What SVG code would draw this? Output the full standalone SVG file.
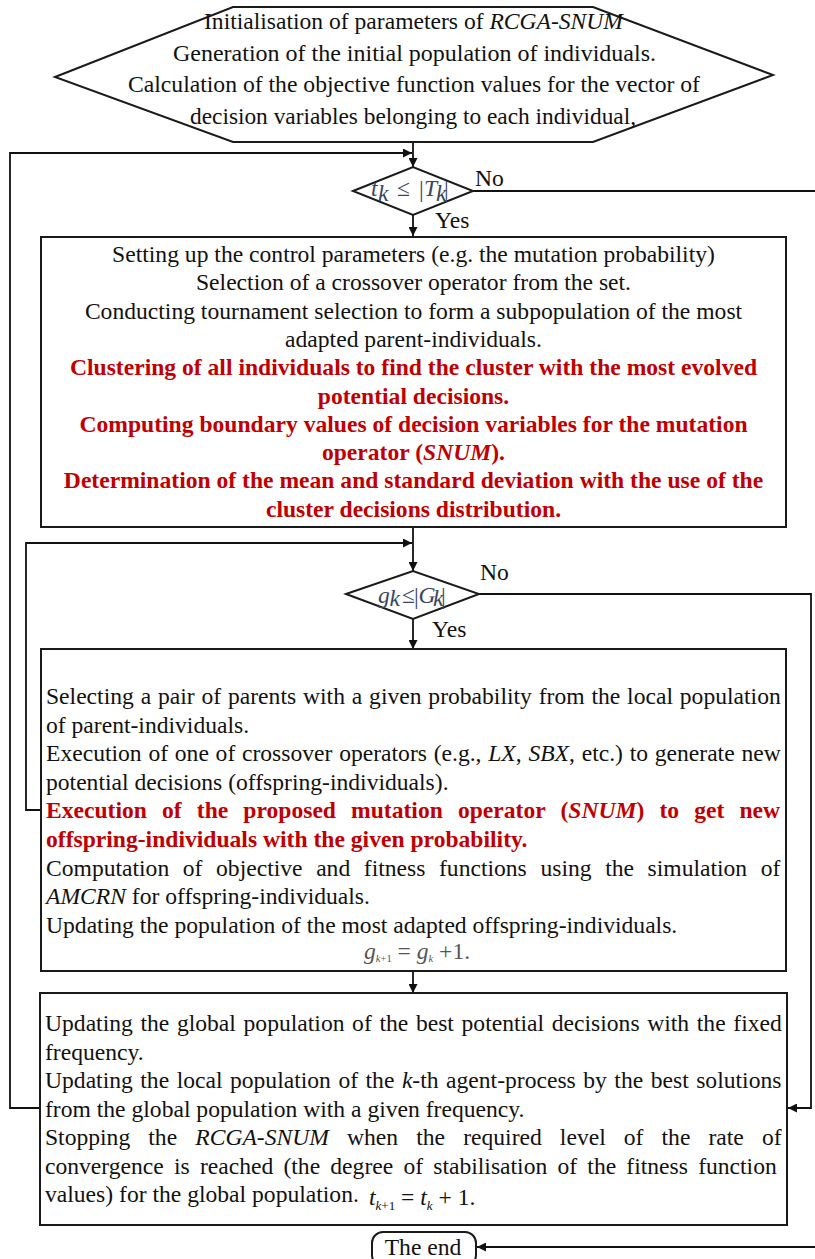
<svg xmlns="http://www.w3.org/2000/svg" width="815" height="1259" viewBox="0 0 815 1259">
<style>
.t{font-family:"Liberation Serif","Times New Roman",serif;font-size:23.6px;fill:#111}
.h{font-size:23px}
.c{text-anchor:middle}
.i{font-style:italic}
.r{fill:#C00000;font-weight:bold}
.m{fill:#3a4660}
.g{fill:#555}
.box{fill:#fff;stroke:#1a1a1a;stroke-width:2}
.ln{fill:none;stroke:#111;stroke-width:1.8}
</style>
<defs>
<marker id="ah" viewBox="0 0 10 10" refX="10" refY="5" markerWidth="9" markerHeight="9" markerUnits="userSpaceOnUse" orient="auto">
<path d="M0,0 L10,5 L0,10 z" fill="#111"/>
</marker>
</defs>

<g id="connectors">
<path class="ln" d="M413,142 V167" marker-end="url(#ah)"/>
<path class="ln" d="M40,1108 H10 V153 H412" marker-end="url(#ah)"/>
<path class="ln" d="M413,215 V236" marker-end="url(#ah)"/>
<path class="ln" d="M473,191 H830 V1247 H477" marker-end="url(#ah)"/>
<path class="ln" d="M413,527 V571" marker-end="url(#ah)"/>
<path class="ln" d="M41,810 H26 V543 H412" marker-end="url(#ah)"/>
<path class="ln" d="M413,619 V649" marker-end="url(#ah)"/>
<path class="ln" d="M479,594 H811 V1108 H788" marker-end="url(#ah)"/>
<path class="ln" d="M413,971 V993" marker-end="url(#ah)"/>
<text class="t" x="475" y="186" font-size="22.5">No</text>
<text class="t" x="435" y="228" font-size="22.5">Yes</text>
<text class="t" x="480" y="580" font-size="22.5">No</text>
<text class="t" x="432" y="637" font-size="22.5">Yes</text>
</g>

<g id="start">
<polygon class="box" points="55,77 233,7 593,7 773,75 593,142 233,142"/>
<text class="t h" x="204" y="29" textLength="419" lengthAdjust="spacingAndGlyphs">Initialisation of parameters of <tspan class="i">RCGA-SNUM</tspan></text>
<text class="t h" x="173" y="60.5" textLength="483" lengthAdjust="spacingAndGlyphs">Generation of the initial population of individuals.</text>
<text class="t h" x="128" y="92" textLength="572" lengthAdjust="spacingAndGlyphs">Calculation of the objective function values for the vector of</text>
<text class="t h" x="190" y="123.5" textLength="446" lengthAdjust="spacingAndGlyphs">decision variables belonging to each individual,</text>
</g>

<g id="cond1">
<polygon class="box" points="353,191 413,167 473,191 413,215"/>
<text class="t i m" x="371" y="196" font-size="21">t</text>
<text class="t i m" x="378" y="201" font-size="12">k</text>
<text class="t m" x="397" y="196" font-size="21">≤</text>
<text class="t m" x="419" y="197" font-size="23">|</text>
<text class="t i m" x="424" y="196" font-size="20">T</text>
<text class="t i m" x="436" y="201" font-size="12">k</text>
<text class="t m" x="444" y="197" font-size="23">|</text>
</g>

<g id="step1">
<rect class="box" x="41" y="237" width="745" height="290"/>
<text class="t c" x="413.5" y="262">Setting up the control parameters (e.g. the mutation probability)</text>
<text class="t c" x="413.5" y="290.3">Selection of a crossover operator from the set.</text>
<text class="t c" x="413.5" y="318.6">Conducting tournament selection to form a subpopulation of the most</text>
<text class="t c" x="413.5" y="346.9">adapted parent-individuals.</text>
<text class="t c r" x="413.5" y="375.2">Clustering of all individuals to find the cluster with the most evolved</text>
<text class="t c r" x="413.5" y="403.5">potential decisions.</text>
<text class="t c r" x="413.5" y="431.8">Computing boundary values of decision variables for the mutation</text>
<text class="t c r" x="413.5" y="460.1">operator (<tspan class="i">SNUM</tspan>).</text>
<text class="t c r" x="413.5" y="488.4">Determination of the mean and standard deviation with the use of the</text>
<text class="t c r" x="413.5" y="516.7">cluster decisions distribution.</text>
</g>

<g id="cond2">
<polygon class="box" points="346,594 413,571 479,594 413,619"/>
<text class="t i m" x="378" y="603" font-size="15">g</text>
<text class="t i m" x="389.5" y="606" font-size="9.5">k</text>
<text class="t m" x="402" y="603" font-size="15">≤</text>
<text class="t m" x="414" y="604" font-size="18">|</text>
<text class="t i m" x="418.5" y="603" font-size="15">G</text>
<text class="t i m" x="433" y="606" font-size="9.5">k</text>
<text class="t m" x="441" y="604" font-size="18">|</text>
</g>

<g id="step2">
<rect class="box" x="41" y="649" width="745" height="322"/>
<text class="t" x="46" y="704" word-spacing="0.95">Selecting a pair of parents with a given probability from the local population</text>
<text class="t" x="46" y="732.6">of parent-individuals.</text>
<text class="t" x="46" y="761.2" word-spacing="0.84">Execution of one of crossover operators (e.g., <tspan class="i">LX</tspan>, <tspan class="i">SBX</tspan>, etc.) to generate new</text>
<text class="t" x="46" y="789.8">potential decisions (offspring-individuals).</text>
<text class="t r" x="46" y="818.4" word-spacing="9.2">Execution of the proposed mutation operator (<tspan class="i">SNUM</tspan>) to get new</text>
<text class="t r" x="46" y="847">offspring-individuals with the given probability.</text>
<text class="t" x="46" y="875.6" word-spacing="7.7">Computation of objective and fitness functions using the simulation of</text>
<text class="t" x="46" y="904.2"><tspan class="i">AMCRN</tspan> for offspring-individuals.</text>
<text class="t" x="46" y="932.8">Updating the population of the most adapted offspring-individuals.</text>
<text class="t g" x="364" y="959" font-size="16.5"><tspan class="i">g</tspan><tspan class="i" font-size="10.5" dy="3">k</tspan><tspan font-size="10.5">+1</tspan><tspan dy="-3"> = </tspan><tspan class="i">g</tspan><tspan class="i" font-size="10.5" dy="3">k</tspan><tspan dy="-3"> +1.</tspan></text>
</g>

<g id="step3">
<rect class="box" x="40" y="993" width="747" height="232"/>
<text class="t" x="45" y="1031" word-spacing="1.75">Updating the global population of the best potential decisions with the fixed</text>
<text class="t" x="45" y="1059.5">frequency.</text>
<text class="t" x="45" y="1088" word-spacing="1.6">Updating the local population of the <tspan class="i">k</tspan>-th agent-process by the best solutions</text>
<text class="t" x="45" y="1116.5">from the global population with a given frequency.</text>
<text class="t" x="45" y="1145" word-spacing="12.2">Stopping the <tspan class="i">RCGA-SNUM</tspan> when the required level of the rate of</text>
<text class="t" x="45" y="1173.5" word-spacing="4.3">convergence is reached (the degree of stabilisation of the fitness function</text>
<text class="t" x="45" y="1202">values) for the global population.</text>
<text class="t" x="369" y="1205" font-size="21"><tspan class="i">t</tspan><tspan class="i" font-size="13" dy="5">k</tspan><tspan font-size="13">+1</tspan><tspan dy="-5"> = </tspan><tspan class="i">t</tspan><tspan class="i" font-size="13" dy="5">k</tspan><tspan dy="-5"> + 1.</tspan></text>
</g>

<g id="end">
<rect class="box" x="372" y="1232" width="104" height="34" rx="11"/>
<text class="t c" x="423" y="1255" font-size="23">The end</text>
</g>
</svg>
